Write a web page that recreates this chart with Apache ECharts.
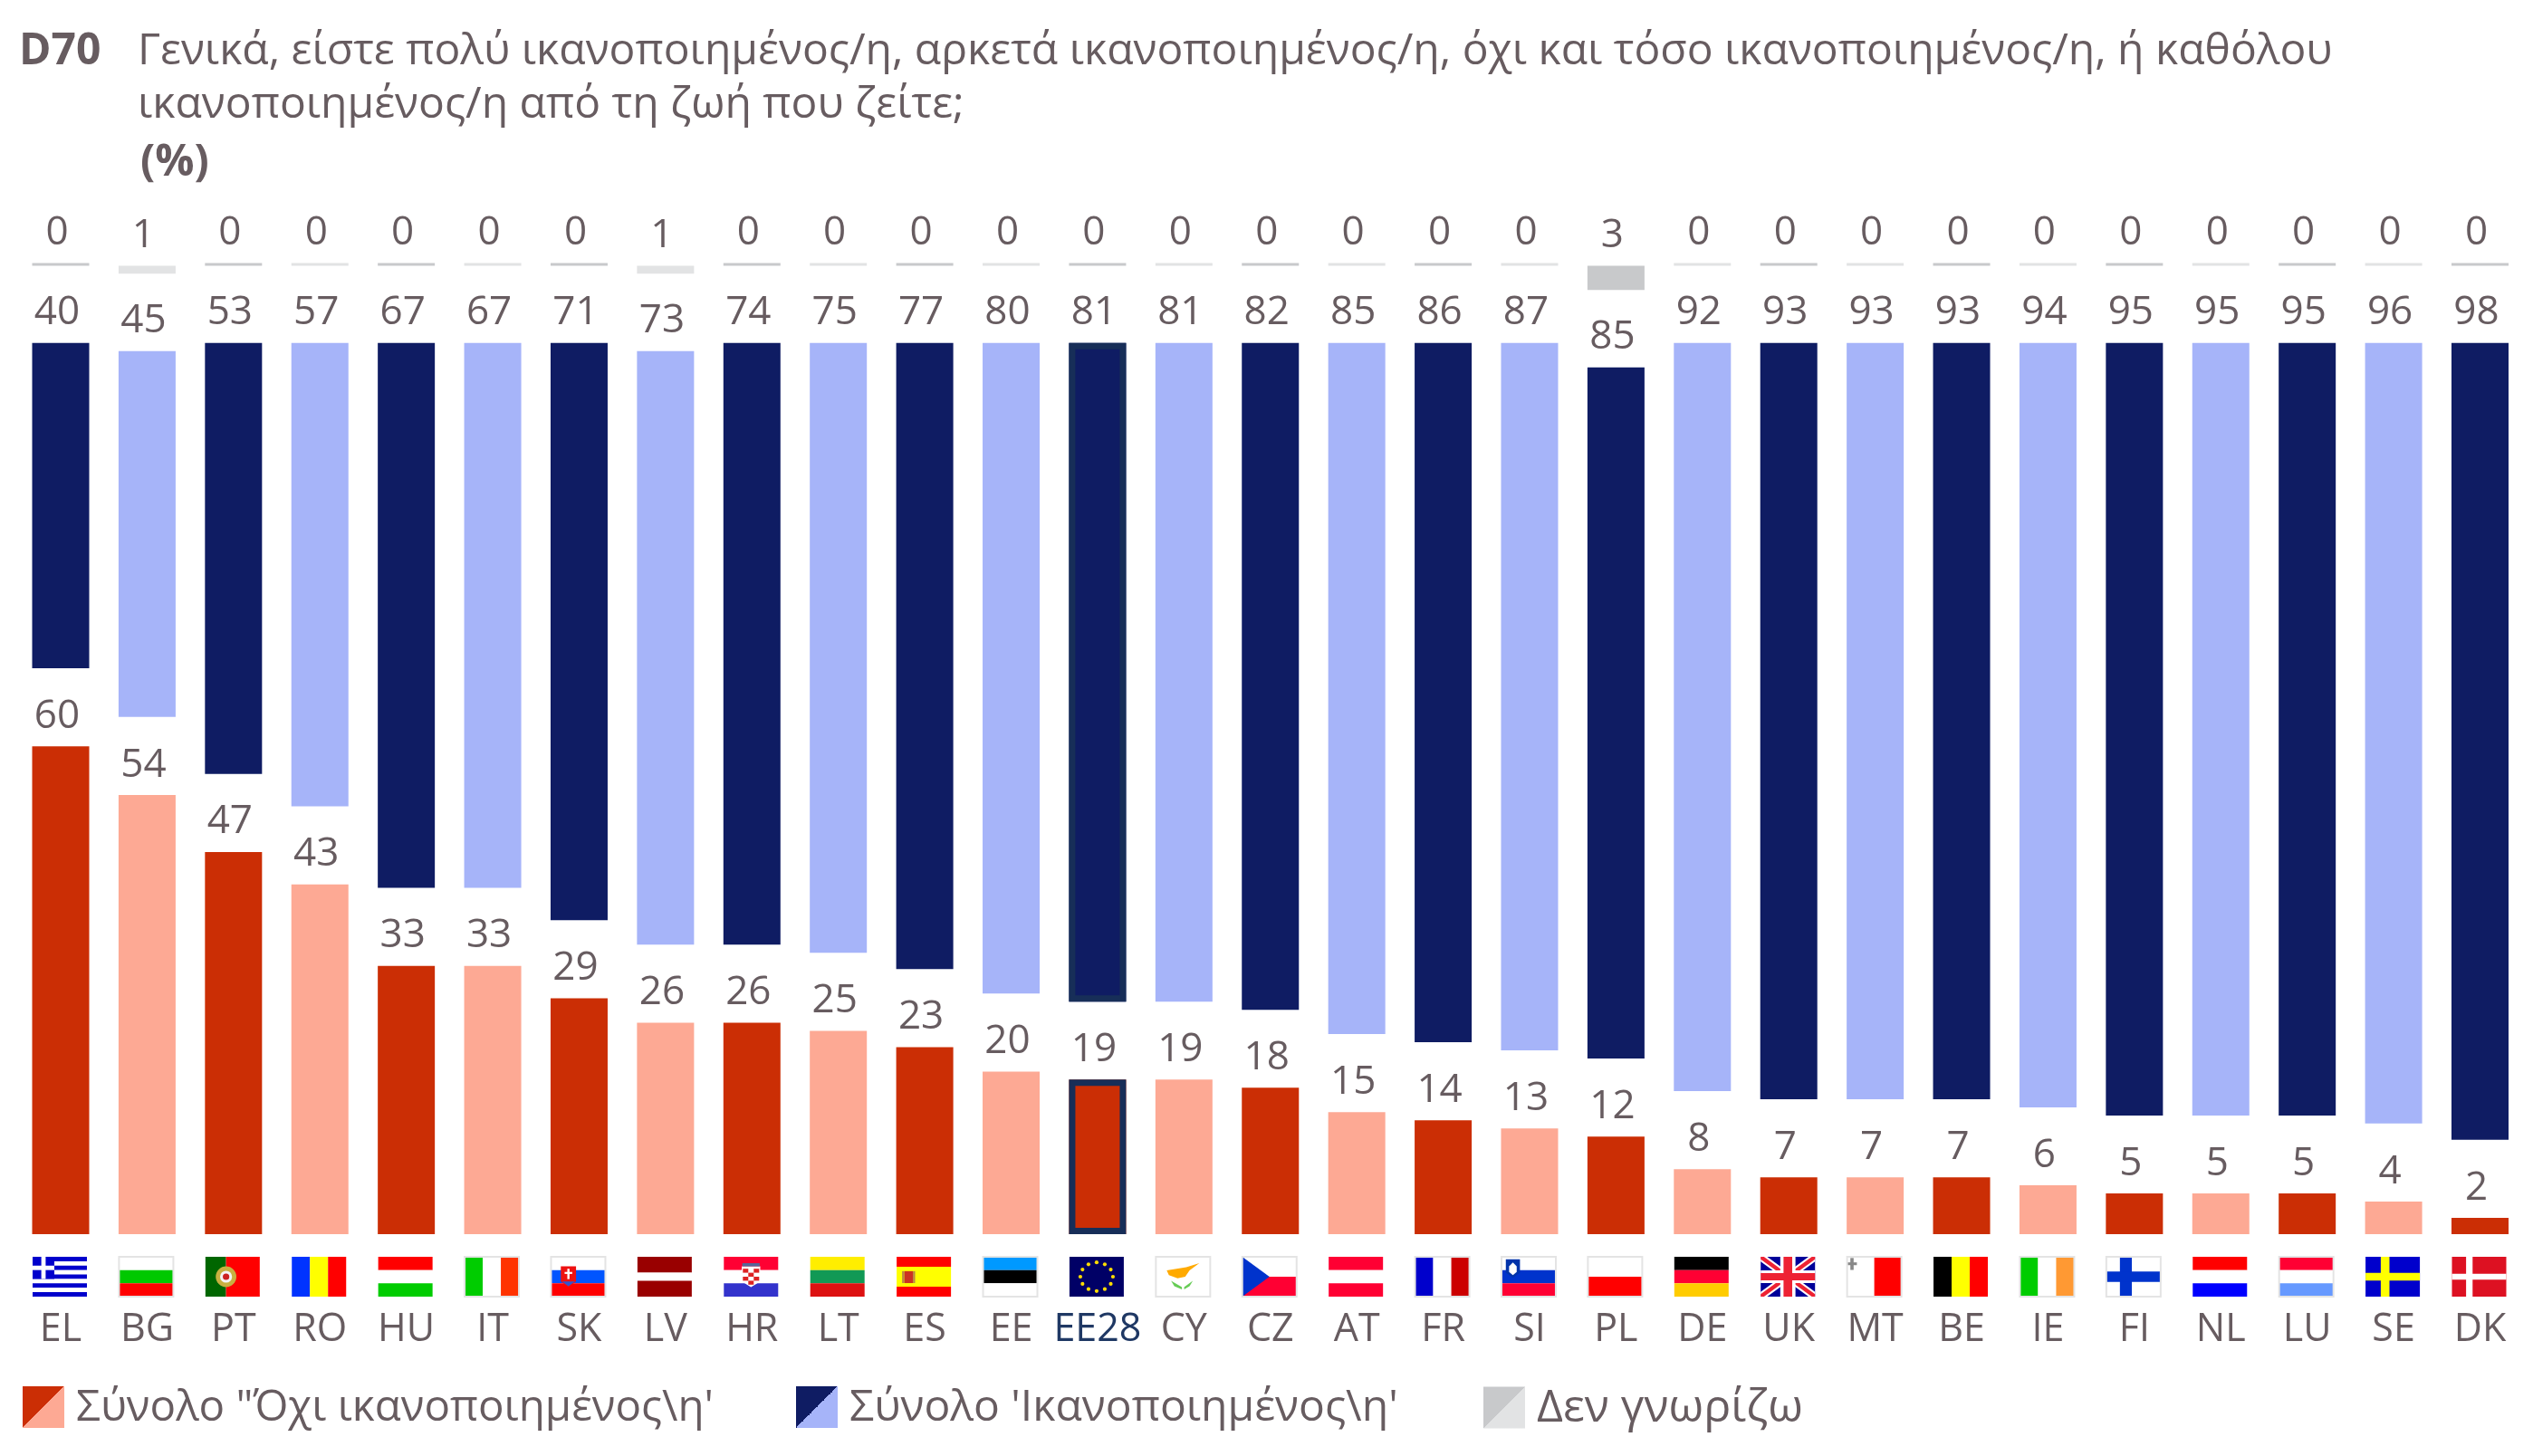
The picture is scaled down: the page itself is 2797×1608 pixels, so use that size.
<!DOCTYPE html>
<html>
<head>
<meta charset="utf-8">
<style>html,body{margin:0;padding:0;background:#fff}#chart{width:2797px;height:1608px}</style>
<script src="https://cdn.jsdelivr.net/npm/echarts@6/dist/echarts.min.js"></script>
</head>
<body>
<div id="chart"></div>
<script>
const countries = ['EL','BG','PT','RO','HU','IT','SK','LV','HR','LT','ES','EE','EE28','CY','CZ','AT','FR','SI','PL','DE','UK','MT','BE','IE','FI','NL','LU','SE','DK'];
const notSatisfied = [60,54,47,43,33,33,29,26,26,25,23,20,19,19,18,15,14,13,12,8,7,7,7,6,5,5,5,4,2];
const satisfied = [40,45,53,57,67,67,71,73,74,75,77,80,81,81,82,85,86,87,85,92,93,93,93,94,95,95,95,96,98];
const dontKnow = [0,1,0,0,0,0,0,1,0,0,0,0,0,0,0,0,0,0,3,0,0,0,0,0,0,0,0,0,0];

const nameNo = 'Σύνολο "Όχι ικανοποιημένος\\η\'';
const nameYes = "Σύνολο 'Ικανοποιημένος\\η'";
const nameDk = 'Δεν γνωρίζω';

const FONT = '"Open Sans"';
const TEXT = '#675c60';
const EU_INDEX = countries.indexOf('EE28');
const GAP_LOW = 9.6;   // white band between red and blue stacks
const GAP_HIGH = 9.5;  // white band between blue and grey stacks

// flags, in a 0..1 box
const hs = (...c) => c.map((f, i) => ['r', 0, i / c.length, 1, 1 / c.length, f]);
const vs = (...c) => c.map((f, i) => ['r', i / c.length, 0, 1 / c.length, 1, f]);
const cross = (bg, fg, cx, w) => [['r',0,0,1,1,bg], ['r',cx - w / 2,0,w,1,fg], ['r',0,.5 - w * .6,1,w * 1.2,fg]];
const greekStripes = [];
for (let i = 0; i < 9; i++) greekStripes.push(['r',0,i / 9,1,1 / 9,i % 2 ? '#ffffff' : '#0000cc']);
const euStars = [];
for (let i = 0; i < 12; i++) {
  const a = i * Math.PI / 6;
  euStars.push(['c', .5 + .3 * Math.cos(a), .5 + .36 * Math.sin(a), .035, '#ffdd00']);
}
const FLAGS = {
  EL: [...greekStripes, ['r',0,0,.4,.556,'#0000cc'], ['r',.16,0,.08,.556,'#ffffff'], ['r',0,.222,.4,.111,'#ffffff']],
  BG: hs('#ffffff','#00c800','#ff0000'),
  PT: [['r',0,0,.38,1,'#006600'], ['r',.38,0,.62,1,'#ff0000'], ['c',.38,.5,.19,'#c8b040'], ['c',.38,.5,.11,'#f4f4f4'], ['c',.38,.5,.06,'#cc2222']],
  RO: vs('#0033ff','#ffff00','#ff0000'),
  HU: hs('#ff0000','#ffffff','#00cc00'),
  IT: vs('#00cc00','#ffffff','#ff3300'),
  SK: [...hs('#ffffff','#0055ff','#ff0000'), ['p',[[.18,.24],[.46,.24],[.46,.62],[.32,.76],[.18,.62]],'#ee1111'], ['r',.3,.3,.04,.26,'#ffffff'], ['r',.25,.38,.14,.05,'#ffffff'], ['p',[[.2,.62],[.44,.62],[.32,.74]],'#3355cc']],
  LV: [['r',0,0,1,.4,'#990000'], ['r',0,.4,1,.2,'#ffffff'], ['r',0,.6,1,.4,'#990000']],
  HR: [...hs('#ff0033','#ffffff','#3333cc'), ['p',[[.33,.24],[.67,.24],[.67,.62],[.5,.76],[.33,.62]],'#ffffff'], ['r',.35,.3,.1,.1,'#dd2222'], ['r',.55,.3,.1,.1,'#dd2222'], ['r',.45,.4,.1,.1,'#dd2222'], ['r',.35,.5,.1,.1,'#dd2222'], ['r',.55,.5,.1,.1,'#dd2222'], ['r',.45,.6,.1,.1,'#dd2222'], ['r',.34,.16,.32,.08,'#556699']],
  LT: hs('#ffee00','#119955','#dd1111'),
  ES: [['r',0,0,1,.25,'#ff0000'], ['r',0,.25,1,.5,'#ffff00'], ['r',0,.75,1,.25,'#ff0000'], ['r',.14,.36,.16,.3,'#cc3322'], ['r',.1,.36,.04,.3,'#bb8844'], ['r',.3,.36,.04,.3,'#bb8844']],
  EE: hs('#0099ff','#000000','#ffffff'),
  EE28: [['r',0,0,1,1,'#000066'], ...euStars],
  CY: [['r',0,0,1,1,'#ffffff'], ['p',[[.2,.34],[.38,.3],[.56,.26],[.8,.16],[.62,.34],[.54,.5],[.4,.54],[.24,.46]],'#ffaa00'], ['p',[[.28,.6],[.48,.76],[.48,.82],[.34,.74]],'#66cc55'], ['p',[[.68,.6],[.52,.76],[.52,.82],[.62,.74]],'#66cc55']],
  CZ: [...hs('#ffffff','#ff0033'), ['p',[[0,0],[.5,.5],[0,1]],'#0033cc']],
  AT: hs('#ff0033','#ffffff','#ff0033'),
  FR: vs('#0000cc','#ffffff','#cc0000'),
  SI: [...hs('#ffffff','#0033cc','#ff0033'), ['p',[[.08,.06],[.34,.06],[.34,.4],[.21,.52],[.08,.4]],'#0033aa'], ['p',[[.14,.24],[.21,.14],[.28,.24],[.28,.38],[.21,.46],[.14,.38]],'#ffffff']],
  PL: hs('#ffffff','#ff0000'),
  DE: hs('#000000','#ff0033','#ffcc00'),
  UK: [['r',0,0,1,1,'#000099'],
       ['p',[[0,0],[.12,0],[1,.88],[1,1],[.88,1],[0,.12]],'#ffffff'], ['p',[[1,0],[.88,0],[0,.88],[0,1],[.12,1],[1,.12]],'#ffffff'],
       ['p',[[0,0],[.06,0],[1,.94],[1,1],[.94,1],[0,.06]],'#ee2233'], ['p',[[1,0],[.94,0],[0,.94],[0,1],[.06,1],[1,.06]],'#ee2233'],
       ['r',.36,0,.28,1,'#ffffff'], ['r',0,.34,1,.32,'#ffffff'], ['r',.42,0,.16,1,'#ee2233'], ['r',0,.41,1,.18,'#ee2233']],
  MT: [['r',0,0,.5,1,'#ffffff'], ['r',.5,0,.5,1,'#ff0000'], ['r',.06,.03,.06,.3,'#888888'], ['r',.0,.14,.18,.07,'#888888']],
  BE: vs('#000000','#ffff00','#ff0000'),
  IE: vs('#00cc00','#ffffff','#ff9933'),
  FI: cross('#ffffff','#0033cc',.36,.22),
  NL: hs('#ff0000','#ffffff','#0000ff'),
  LU: hs('#ff0033','#ffffff','#6699ff'),
  SE: cross('#0000cc','#ffff00',.36,.16),
  DK: cross('#dd1122','#ffffff',.32,.12)
};
const WHITE_EDGED = ['BG','IT','SK','LU','EE','CY','CZ','FR','SI','PL','MT','IE','FI'];

function renderFlag(params, api) {
  const code = countries[api.value(0)];
  const base = api.coord([api.value(0), 0]);
  const x0 = base[0] - 31, y0 = base[1] + 25, w = 60, h = 44;
  const children = FLAGS[code].map(s => {
    if (s[0] === 'r') return { type: 'rect', shape: { x: x0 + s[1] * w, y: y0 + s[2] * h, width: s[3] * w, height: s[4] * h }, style: { fill: s[5] } };
    if (s[0] === 'c') return { type: 'circle', shape: { cx: x0 + s[1] * w, cy: y0 + s[2] * h, r: s[3] * w }, style: { fill: s[4] } };
    return { type: 'polygon', shape: { points: s[1].map(p => [x0 + p[0] * w, y0 + p[1] * h]) }, style: { fill: s[2] } };
  });
  if (WHITE_EDGED.includes(code)) {
    children.push({ type: 'rect', shape: { x: x0, y: y0, width: w, height: h }, style: { fill: 'none', stroke: '#e4e4e4', lineWidth: 2 } });
  }
  return { type: 'group', children };
}

// EE28 frame sits inside the bar
function renderFrame(params, api) {
  const i = api.value(0);
  const a = api.coord([i, api.value(1)]);
  const b = api.coord([i, api.value(2)]);
  const bw = 63, lw = 7;
  return {
    type: 'rect',
    shape: { x: a[0] - bw / 2 + lw / 2, y: b[1] + lw / 2, width: bw - lw, height: a[1] - b[1] - lw },
    style: { fill: 'none', stroke: '#172e58', lineWidth: lw }
  };
}

const twoTone = (dark, light) => new echarts.graphic.LinearGradient(0, 0, 1, 1, [
  { offset: 0, color: dark }, { offset: .5, color: dark },
  { offset: .5, color: light }, { offset: 1, color: light }
]);
const tinted = (values, dark, light) => values.map((v, i) => ({ value: v, itemStyle: { color: i % 2 ? light : dark } }));
const valueLabel = { show: true, position: 'top', distance: 11, offset: [-4, 0], color: TEXT, fontFamily: FONT, fontSize: 44 };
const barBase = { type: 'bar', stack: 'total', barWidth: 63, barGap: '-100%' };
// rich token so the text can sit a little below the swatch centre
const oneLegend = (name, left, size) => ({
  data: [name], left, top: 1531, icon: 'rect', itemWidth: 46, itemHeight: 46, itemGap: 0, padding: 0,
  selectedMode: false,
  formatter: n => `{t|${n}}`,
  textStyle: { rich: { t: { color: TEXT, fontFamily: FONT, fontSize: size, padding: [3, 0, 0, 8] } } }
});

const chart = echarts.init(document.getElementById('chart'), null, { renderer: 'canvas' });
chart.setOption({
  animation: false,
  backgroundColor: '#ffffff',
  title: [
    { text: 'D70', left: 21, top: 28, padding: 0, textStyle: { color: TEXT, fontFamily: FONT, fontSize: 48, fontWeight: 700, lineHeight: 59 } },
    { text: 'Γενικά, είστε πολύ ικανοποιημένος/η, αρκετά ικανοποιημένος/η, όχι και τόσο ικανοποιημένος/η, ή καθόλου\nικανοποιημένος/η από τη ζωή που ζείτε;', left: 152, top: 28, padding: 0, textStyle: { color: TEXT, fontFamily: FONT, fontSize: 48, fontWeight: 400, lineHeight: 59 } },
    { text: '(%)', left: 155, top: 151, padding: 0, textStyle: { color: TEXT, fontFamily: FONT, fontSize: 48, fontWeight: 700, lineHeight: 59 } }
  ],
  legend: [oneLegend(nameNo, 25, 47.5), oneLegend(nameYes, 879, 48), oneLegend(nameDk, 1638, 50)],
  grid: { left: 19.3, right: 10.8, top: 288, bottom: 245, containLabel: false },
  xAxis: {
    type: 'category',
    data: countries,
    axisLine: { show: false },
    axisTick: { show: false },
    axisLabel: {
      interval: 0, margin: 84, fontFamily: FONT, fontSize: 43,
      color: (v, i) => i === EU_INDEX ? '#1f3864' : TEXT
    }
  },
  yAxis: { type: 'value', min: 0, max: 119.7, show: false },
  series: [
    { ...barBase, name: nameNo, data: tinted(notSatisfied, '#cb2e05', '#fda994'), itemStyle: { color: twoTone('#cb2e05', '#fda994') }, label: valueLabel },
    { ...barBase, name: 'gapLow', data: countries.map(() => GAP_LOW), itemStyle: { color: 'transparent' }, silent: true },
    { ...barBase, name: nameYes, data: tinted(satisfied, '#0f1c63', '#a6b4f9'), itemStyle: { color: twoTone('#0f1c63', '#a6b4f9') }, label: valueLabel },
    { ...barBase, name: 'gapHigh', data: countries.map(() => GAP_HIGH), itemStyle: { color: 'transparent' }, silent: true },
    { ...barBase, name: nameDk, barMinHeight: 3, data: tinted(dontKnow, '#c8c9cb', '#e2e3e4'), itemStyle: { color: twoTone('#c8c9cb', '#e2e3e4') }, label: valueLabel },
    {
      type: 'custom', name: 'flags', renderItem: renderFlag, silent: true, clip: false,
      data: countries.map((c, i) => [i, 0]), encode: { x: 0, y: 1 }
    },
    {
      type: 'custom', name: 'frame', renderItem: renderFrame, silent: true, clip: false, z: 5,
      data: [
        [EU_INDEX, 0, notSatisfied[EU_INDEX]],
        [EU_INDEX, notSatisfied[EU_INDEX] + GAP_LOW, notSatisfied[EU_INDEX] + GAP_LOW + satisfied[EU_INDEX]]
      ],
      encode: { x: 0, y: [1, 2] }
    }
  ]
});
</script>
</body>
</html>
